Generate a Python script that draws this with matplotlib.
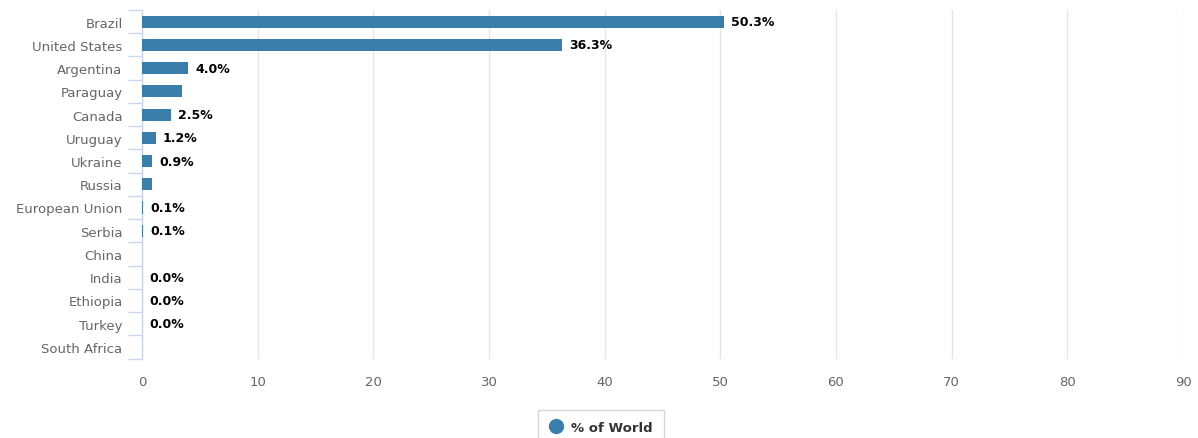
import matplotlib
matplotlib.use('Agg')
import matplotlib.pyplot as plt
import matplotlib.ticker as mticker
from matplotlib.lines import Line2D

# Data (share of world, %)
countries = ['Brazil', 'United States', 'Argentina', 'Paraguay', 'Canada', 'Uruguay',
             'Ukraine', 'Russia', 'European Union', 'Serbia', 'China', 'India',
             'Ethiopia', 'Turkey', 'South Africa']
share = [50.3, 36.3, 4.0, 3.5, 2.5, 1.2, 0.9, 0.9, 0.1, 0.1, 0.0, 0.0, 0.0, 0.0, 0.0]
# labels hidden by the chart for some rows (overlap)
value_labels = ['50.3%', '36.3%', '4.0%', '', '2.5%', '1.2%', '0.9%', '',
                '0.1%', '0.1%', '', '0.0%', '0.0%', '0.0%', '']
x_ticks = [0, 10, 20, 30, 40, 50, 60, 70, 80, 90]

bar_color = '#3a7fab'
label_gray = '#666666'

fig = plt.figure(figsize=(11.98, 4.39), dpi=100)
W, H = 1198, 439
ax = fig.add_axes([142 / W, 1 - 359.5 / H, (1183 - 142) / W, (359.5 - 11) / H])

ypos = list(range(len(countries)))
ax.barh(ypos, share, height=0.52, color=bar_color, zorder=3)
ax.set_ylim(len(countries) - 0.5, -0.5)
ax.set_xlim(0, 90)

for y, v, lab in zip(ypos, share, value_labels):
    if lab:
        ax.annotate(lab, (v, y), xytext=(5, 0), textcoords='offset points',
                    ha='left', va='center', fontsize=9, fontweight='bold',
                    color='#000000', zorder=4)

# axes styling
for s in ['top', 'right', 'bottom']:
    ax.spines[s].set_visible(False)
ax.spines['left'].set_color('#ccd6eb')
ax.spines['left'].set_linewidth(1)

ax.set_xticks(x_ticks)
ax.xaxis.set_major_formatter(mticker.FormatStrFormatter('%d'))
ax.tick_params(axis='x', length=0, pad=12, labelsize=9.5, labelcolor=label_gray)
ax.grid(axis='x', color='#e6e6e6', linewidth=1, zorder=0)

ax.set_yticks(ypos)
ax.set_yticklabels(countries)
ax.tick_params(axis='y', length=0, pad=14, labelsize=9.5, labelcolor=label_gray)
# category boundary tick marks
ax.set_yticks([i - 0.5 for i in range(len(countries) + 1)], minor=True)
ax.tick_params(axis='y', which='minor', length=10, width=1, color='#ccd6eb', direction='out')

# legend
handle = Line2D([], [], marker='o', linestyle='none', markersize=10,
                markerfacecolor=bar_color, markeredgecolor=bar_color)
leg = fig.legend([handle], ['% of World'], loc='upper center',
                 bbox_to_anchor=(601 / W, 1 - 407 / H), frameon=True,
                 prop={'size': 9.5, 'weight': 'bold'}, handletextpad=0.7,
                 borderpad=0.8, borderaxespad=0.3, fancybox=False, handlelength=1.0)
leg.get_frame().set_edgecolor('#cccccc')
leg.get_frame().set_linewidth(1)
for t in leg.get_texts():
    t.set_color('#333333')

fig.savefig('out.png', dpi=100)
plt.close(fig)
